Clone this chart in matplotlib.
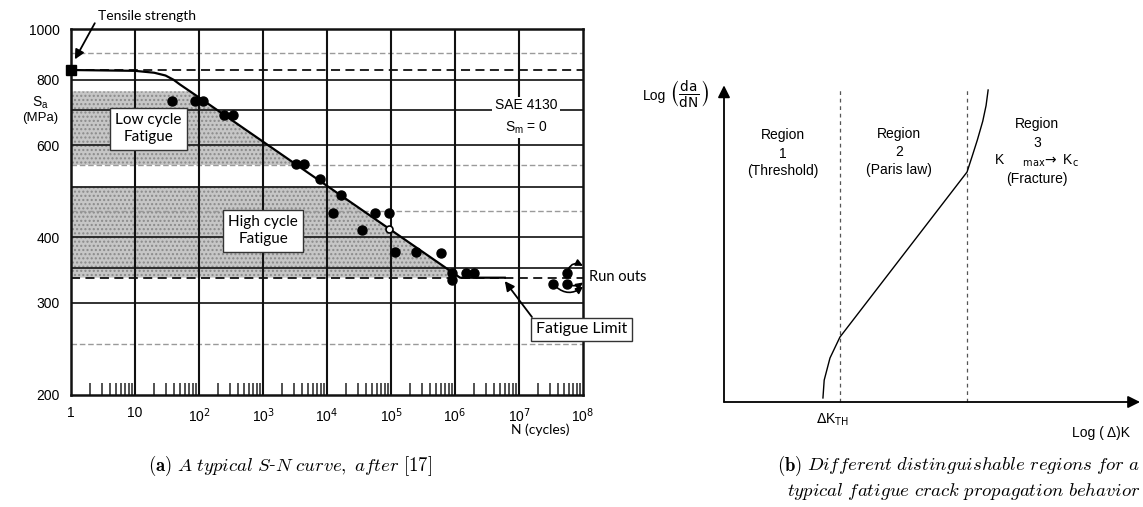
import numpy as np
import matplotlib
matplotlib.use("Agg")
import matplotlib.pyplot as plt
from matplotlib.ticker import FixedLocator, FixedFormatter, LogLocator, NullFormatter, NullLocator

# ---- S-N curve data (SAE 4130, Sm = 0) ----
curve_n = [1, 10, 20, 30, 40, 50, 100, 1.2e6, 6e6]
curve_s = [835, 832, 825, 815, 800, 784, 740, 335, 335]

test_n = [38, 87, 115, 245, 340, 3300, 4300, 7800, 16500, 12500, 56000,
          93000, 35000, 115000, 245000, 600000, 900000, 900000, 1.5e6, 2e6]
test_s = [728, 728, 728, 685, 685, 552, 552, 518, 482, 446, 446,
          446, 413, 375, 375, 374, 342, 332, 342, 342]
open_n = [93000]
open_s = [415]
runout_n = [5.6e7, 3.4e7, 5.6e7]
runout_s = [342, 326, 326]

tensile_strength = 835
fatigue_limit = 335
low_cycle_band = (550, 760)
high_cycle_band = (fatigue_limit, 500)

y_ticks = [200, 300, 400, 600, 800, 1000]
x_ticks = [1, 10, 1e2, 1e3, 1e4, 1e5, 1e6, 1e7, 1e8]
x_tick_labels = ['1', '10', '10$^2$', '10$^3$', '10$^4$', '10$^5$',
                 '10$^6$', '10$^7$', '10$^8$']
solid_levels = [300, 350, 400, 500, 600, 700, 800]
faint_levels = [250, 450, 550, 900]

# ---- crack growth schematic (log dK vs log da/dN, arbitrary units) ----
dk = [2.39, 2.42, 2.56, 2.80, 5.87, 6.00, 6.12, 6.25, 6.33, 6.38]
dadn = [0.13, 0.70, 1.41, 2.08, 7.37, 7.90, 8.40, 9.00, 9.50, 10.0]
dk_threshold = 2.80
dk_fracture = 5.87

W, H = 1143, 507
fig = plt.figure(figsize=(W / 100, H / 100), dpi=100)


def box(x0, y0, x1, y1):
    # pixel box (top-left origin) -> figure fraction rect
    return [x0 / W, 1 - y1 / H, (x1 - x0) / W, (y1 - y0) / H]


# ================= panel (a) =================
ax = fig.add_axes(box(71, 29, 583, 395))
ax.set_xscale('log')
ax.set_yscale('log')
ax.set_xlim(1, 1e8)
ax.set_ylim(200, 1000)

sans = 'Liberation Sans'
note = 'Lato'


def curve_x(s):
    ls = np.log10(curve_s[::-1])
    ln = np.log10(curve_n[::-1])
    return 10 ** np.interp(np.log10(s), ls, ln)


for lo, hi in (low_cycle_band, high_cycle_band):
    ys = np.linspace(lo, hi, 200)
    ax.fill_betweenx(ys, 1, curve_x(ys), facecolor='#c6c6c6',
                     edgecolor='#8a8a8a', hatch='....', linewidth=0, zorder=0.5)

for lev in solid_levels:
    ax.axhline(lev, color='#222222', lw=1.3, zorder=1)
for lev in faint_levels:
    ax.axhline(lev, color='#9a9a9a', lw=1.0, ls=(0, (4, 2)), zorder=1)
for xv in x_ticks[1:-1]:
    ax.axvline(xv, color='#111111', lw=1.5, zorder=1)
ax.axhline(tensile_strength, color='#111111', lw=1.3, ls=(0, (5, 3)), zorder=1)
ax.axhline(fatigue_limit, color='#111111', lw=1.3, ls=(0, (5, 3)), zorder=1)

ax.plot(curve_n, curve_s, color='black', lw=1.6, zorder=3)
ax.plot([1], [tensile_strength], marker='s', color='black', ms=7,
        clip_on=False, zorder=4)
ax.plot(test_n, test_s, 'o', color='black', ms=6.5, zorder=4)
ax.plot(open_n, open_s, 'o', mfc='white', mec='black', ms=5, mew=1.2, zorder=4)
ax.plot(runout_n, runout_s, 'o', color='black', ms=6.5, zorder=4, clip_on=False)

for sp in ax.spines.values():
    sp.set_linewidth(1.8)
    sp.set_color('#111111')

ax.xaxis.set_major_locator(FixedLocator(x_ticks))
ax.xaxis.set_major_formatter(FixedFormatter(x_tick_labels))
ax.xaxis.set_minor_locator(LogLocator(base=10, subs=np.arange(2, 10), numticks=20))
ax.xaxis.set_minor_formatter(NullFormatter())
ax.tick_params(axis='x', which='major', length=0, pad=8, labelsize=10)
ax.tick_params(axis='x', which='minor', direction='in', length=9, width=1.1,
               color='#222222')
ax.yaxis.set_major_locator(FixedLocator(y_ticks))
ax.yaxis.set_major_formatter(FixedFormatter([str(v) for v in y_ticks]))
ax.yaxis.set_minor_locator(NullLocator())
ax.tick_params(axis='y', which='major', length=0, pad=8, labelsize=10)
for lab in ax.get_xticklabels() + ax.get_yticklabels():
    lab.set_family(sans)

# annotations
ax.annotate('Tensile strength', xy=(1.15, 875), xytext=(2.6, 1060),
            fontsize=10, family=note, ha='left', va='center',
            annotation_clip=False,
            arrowprops=dict(arrowstyle='-|>', color='black', lw=1.3,
                            mutation_scale=14, shrinkA=0, shrinkB=0,
                            relpos=(0.0, 0.3)))
ax.text(16, 645, 'Low cycle\nFatigue', fontsize=11, family=note,
        ha='center', va='center', linespacing=1.3,
        bbox=dict(boxstyle='square,pad=0.35', fc='white', ec='#333333', lw=1))
ax.text(1000, 412, 'High cycle\nFatigue', fontsize=11, family=note,
        ha='center', va='center', linespacing=1.3,
        bbox=dict(boxstyle='square,pad=0.35', fc='white', ec='#333333', lw=1))
ax.text(1.3e7, 680, 'SAE 4130\nS$_\\mathregular{m}$ = 0', fontsize=10,
        family=sans, ha='center', va='center', linespacing=1.6,
        bbox=dict(boxstyle='square,pad=0.2', fc='white', ec='none'))
ax.annotate('Fatigue Limit', xy=(6e6, 330), xytext=(9.5e7, 267),
            fontsize=11.5, family=note, ha='center', va='center',
            annotation_clip=False,
            bbox=dict(boxstyle='square,pad=0.3', fc='white', ec='#333333', lw=1),
            arrowprops=dict(arrowstyle='-|>', color='black', lw=1.3,
                            mutation_scale=14, shrinkA=0, shrinkB=0,
                            relpos=(0.0, 1.0)))
ax.text(1.25e8, 336, 'Run outs', fontsize=10.5, family=note,
        ha='left', va='center')
for (n0, s0), (n1, s1), rad in (((5.6e7, 342), (1.0e8, 353), -0.6),
                                 ((3.4e7, 326), (1.0e8, 322), 0.45),
                                 ((5.6e7, 326), (1.0e8, 328), 0.3)):
    ax.annotate('', xy=(n1, s1), xytext=(n0, s0), annotation_clip=False,
                arrowprops=dict(arrowstyle='-|>', color='black', lw=1.2,
                                mutation_scale=10, shrinkA=3, shrinkB=0,
                                connectionstyle=f'arc3,rad={rad}'))

fig.text(40 / W, 1 - 103 / H, 'S$_\\mathregular{a}$', fontsize=10, family=sans,
         ha='center', va='center')
fig.text(40 / W, 1 - 118 / H, '(MPa)', fontsize=9.5, family=sans,
         ha='center', va='center')
fig.text(540 / W, 1 - 430 / H, 'N (cycles)', fontsize=10, family=note,
         ha='center', va='center')

# ================= panel (b) =================
bx = fig.add_axes(box(724, 90, 1138, 402))
bx.set_xlim(0, 10)
bx.set_ylim(0, 10)
bx.axis('off')

for xd in (dk_threshold, dk_fracture):
    bx.plot([xd, xd], [0, 10.05], color='#555555', lw=0.9, ls=(0, (3, 3)),
            clip_on=False)
bx.plot(dk, dadn, color='black', lw=1.0, clip_on=False)

arrow = dict(arrowstyle='-|>', color='black', lw=1.3, mutation_scale=18,
             shrinkA=0, shrinkB=0)
bx.annotate('', xy=(10.05, 0), xytext=(0, 0), arrowprops=arrow,
            annotation_clip=False)
bx.annotate('', xy=(0, 10.15), xytext=(0, 0), arrowprops=arrow,
            annotation_clip=False)

bfs = 10
bx.text(-1.67, 9.8, 'Log', fontsize=bfs, family=sans, ha='center',
        va='center')
bx.text(-0.85, 9.85, r'$\left(\frac{\mathsf{da}}{\mathsf{dN}}\right)$',
        fontsize=14, ha='center', va='center', math_fontfamily='dejavusans')
region_x = [1.43, 4.23, 7.56]
region_y = [8.55, 8.6, 8.9]
region_num = ['1', '2', '3']
region_note = ['(Threshold)', '(Paris law)', '(Fracture)']
for rx, ry, num, nt in zip(region_x, region_y, region_num, region_note):
    bx.text(rx, ry, 'Region', fontsize=bfs, family=sans, ha='center', va='center')
    bx.text(rx, ry - 0.6, num, fontsize=bfs, family=sans, ha='center', va='center')
    off = 1.75 if num == '3' else 1.15
    bx.text(rx, ry - off, nt, fontsize=bfs, family=sans, ha='center', va='center')
bx.text(7.56, 7.72, r'K     $_{\mathsf{max}}\!\rightarrow$ K$_\mathsf{c}$',
        fontsize=bfs, family=sans, ha='center', va='center',
        math_fontfamily='dejavusans')
bx.text(2.63, -0.58, r'$\Delta$K$_{\mathsf{TH}}$', fontsize=bfs, family=sans,
        ha='center', va='center', math_fontfamily='dejavusans')
bx.text(9.1, -0.99, 'Log ( Δ)K', fontsize=bfs, family=sans,
        ha='center', va='center')

# ---- captions ----
cap = dict(fontsize=13.5, math_fontfamily='cm', va='center')
fig.text(160 / W, 1 - 466 / H, r'$\mathbf{(a)}$', ha='center', **cap)
fig.text(177 / W, 1 - 466 / H,
         r'$A\ typical\ S$-$N\ curve,\ after\ [17]$',
         family='DejaVu Serif', ha='left', **cap)
fig.text(790 / W, 1 - 466 / H, r'$\mathbf{(b)}$', ha='center', **cap)
fig.text(1140 / W, 1 - 466 / H,
         r'$Different\ distinguishable\ regions\ for\ a$', ha='right', **cap)
fig.text(1140 / W, 1 - 491 / H,
         r'$typical\ fatigue\ crack\ propagation\ behavior$', ha='right', **cap)

fig.savefig('out.png', dpi=100)
